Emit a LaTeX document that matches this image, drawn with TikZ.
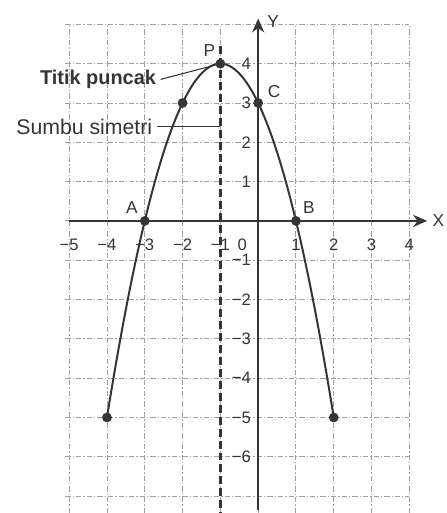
\documentclass[tikz,border=0pt]{standalone}
\usepackage{fontspec}
\setmainfont{Liberation Sans}
\usepackage{tikz}
\usetikzlibrary{arrows.meta,positioning,calc}
\definecolor{inkgray}{HTML}{353535}
\definecolor{gridgray}{HTML}{A0A0A0}

\begin{document}
\begin{tikzpicture}[
  x=1cm, y=1.04cm,
  gridline/.style={gridgray, line width=0.7pt, dash pattern=on 4pt off 1.5pt on 1pt off 1.5pt},
  axis/.style={-{Stealth[length=3.7mm,width=3.2mm]}, inkgray, line width=1.5pt},
  symline/.style={inkgray, line width=1.8pt, dash pattern=on 6pt off 3pt},
  curve/.style={inkgray, line width=1.5pt},
  dot/.style={circle, fill=inkgray, inner sep=0pt, minimum size=0.26cm},
  num/.style={font=\fontsize{12.5}{15}\selectfont, inkgray, inner sep=1pt},
  lbl/.style={font=\fontsize{13}{15}\selectfont, inkgray, inner sep=1pt},
  note/.style={font=\fontsize{16}{18}\selectfont, inkgray}
]
\useasboundingbox (-6.83,-7.43) rectangle (4.97,5.62);

% Grid
\foreach \gx in {-5,...,4}
  \draw[gridline] (\gx,-7.43) -- (\gx,5);
\foreach \gy in {-7,...,5}
  \draw[gridline] (-5.1,\gy) -- (4,\gy);

% Sumbu simetri x = -1
\coordinate (symtop) at (-1,4.45);
\coordinate (symbot) at (-1,-7.43);
\draw[symline] (symtop) -- (symbot);

% Axes
\coordinate (xstart) at (-5,0);
\coordinate (xend) at (4.47,0);
\coordinate (ystart) at (0,-7.35);
\coordinate (yend) at (0,5.15);
\draw[axis] (xstart) -- (xend);
\draw[axis] (ystart) -- (yend);
\node[lbl, anchor=west] (labY) at ($(yend)+(0.2,-0.08)$) {Y};
\node[lbl, anchor=east] (labX) at (4.96,0) {X};

% Tick labels
\foreach \tx/\lab in {-5/−5,-4/−4,-3/−3,-2/−2,-1/−1,1/1,2/2,3/3,4/4}
  \node[num, anchor=north] (xtick\tx) at (\tx,-0.42) {\lab};
\node[num, anchor=north] (xtick0) at (-0.42,-0.42) {0};
\foreach \ty/\lab in {4/4,3/3,2/2,1/1,-1/−1,-2/−2,-3/−3,-4/−4,-5/−5,-6/−6}
  \node[num, anchor=east] (ytick\ty) at (-0.15,\ty) {\lab};

% Parabola y = -(x+1)^2 + 4
\draw[curve] plot[domain=-4:2, samples=90, smooth] (\x,{4-(\x+1)*(\x+1)});

% Points
\node[dot] (ptL) at (-4,-5) {};
\node[dot] (ptA) at (-3,0) {};
\node[dot] (ptD) at (-2,3) {};
\node[dot] (ptP) at (-1,4) {};
\node[dot] (ptC) at (0,3) {};
\node[dot] (ptB) at (1,0) {};
\node[dot] (ptR) at (2,-5) {};

\node[lbl, above left=0.05cm and 0.05cm of ptA] (labA) {A};
\node[lbl, above right=0.05cm and 0.05cm of ptB] (labB) {B};
\node[lbl, above right=0cm and 0.12cm of ptC] (labC) {C};
\node[lbl, above left=0.05cm and 0cm of ptP] (labP) {P};

% Keterangan
\node[note, anchor=east, font=\fontsize{15}{18}\selectfont\bfseries] (titik) at (-2.58,3.6) {Titik puncak};
\draw[inkgray, line width=0.8pt] (titik.east) -- (ptP);

\coordinate (sbend) at (-1,2.4);
\node[note, anchor=east] (sumbu) at (-2.68,2.4) {Sumbu simetri};
\draw[inkgray, line width=0.8pt] (sumbu.east) -- (sbend);

\end{tikzpicture}
\end{document}
